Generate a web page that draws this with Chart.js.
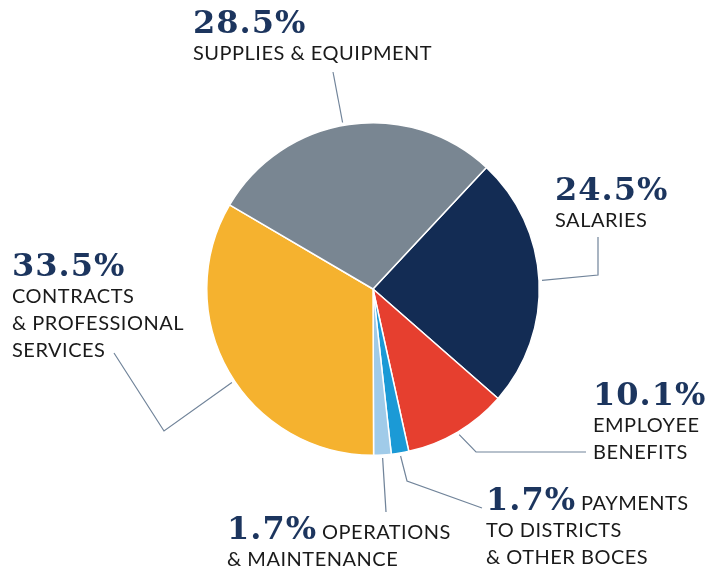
<!DOCTYPE html>
<html lang="en">
<head>
  <meta charset="UTF-8">
  <title>Budget breakdown</title>
  <script src="https://cdn.jsdelivr.net/npm/chart.js"></script>
  <style>
    html, body { margin: 0; padding: 0; background: #fff; }
    #wrap { width: 718px; height: 567px; }
  </style>
</head>
<body>
  <div id="wrap"><canvas id="budgetChart" width="718" height="567"></canvas></div>

  <script>
    // slice order runs clockwise from the supplies/salaries boundary
    const categories = ['SALARIES', 'EMPLOYEE BENEFITS', 'PAYMENTS TO DISTRICTS & OTHER BOCES',
      'OPERATIONS & MAINTENANCE', 'CONTRACTS & PROFESSIONAL SERVICES', 'SUPPLIES & EQUIPMENT'];
    const shares = [24.5, 10.1, 1.7, 1.7, 33.5, 28.5];
    const sliceColors = ['#132c54', '#e63f2f', '#1b9ad6', '#a0cbe9', '#f5b22f', '#798692'];

    // text blocks: percent on first line (optionally followed by words), then extra lines
    // at = where along the slice the leader line starts (0..1)
    const labelLayout = [
      { x: 555, y: 200, first: '', lines: ['SALARIES'], at: 0.5, elbow: [598, 275], end: [598, 237] },
      { x: 593, y: 405, first: '', lines: ['EMPLOYEE', 'BENEFITS'], at: 0.5, elbow: [476, 452], end: [586, 452] },
      { x: 486, y: 510, first: 'PAYMENTS', lines: ['TO DISTRICTS', '& OTHER BOCES'], at: 0.5, elbow: [407, 481], end: [482, 508] },
      { x: 227, y: 539, first: 'OPERATIONS', lines: ['& MAINTENANCE'], at: 0.5, elbow: null, end: [386, 512] },
      { x: 12, y: 276, first: '', lines: ['CONTRACTS', '& PROFESSIONAL', 'SERVICES'], at: 0.47, elbow: [164, 431], end: [114, 353] },
      { x: 193, y: 33, first: '', lines: ['SUPPLIES & EQUIPMENT'], at: 0.48, elbow: null, end: [333, 72] }
    ];

    const pctFont = 'bold 32px "DejaVu Serif"';
    const textFont = '20px Lato';
    const lineGap = 27;

    const calloutPlugin = {
      id: 'callouts',
      afterDraw(chart) {
        const ctx = chart.ctx;
        const arcs = chart.getDatasetMeta(0).data;
        ctx.save();
        arcs.forEach((arc, i) => {
          const lay = labelLayout[i];
          const p = arc.getProps(['x', 'y', 'startAngle', 'endAngle', 'outerRadius'], true);
          const a = p.startAngle + (p.endAngle - p.startAngle) * lay.at;
          const r = p.outerRadius + 3;
          ctx.strokeStyle = '#71849a';
          ctx.lineWidth = 1.2;
          ctx.beginPath();
          ctx.moveTo(p.x + Math.cos(a) * r, p.y + Math.sin(a) * r);
          if (lay.elbow) ctx.lineTo(lay.elbow[0], lay.elbow[1]);
          ctx.lineTo(lay.end[0], lay.end[1]);
          ctx.stroke();

          const pct = shares[i].toFixed(1) + '%';
          ctx.textBaseline = 'alphabetic';
          ctx.textAlign = 'left';
          ctx.font = pctFont;
          ctx.letterSpacing = '1px';
          ctx.fillStyle = '#1c355e';
          ctx.fillText(pct, lay.x, lay.y);
          const w = ctx.measureText(pct).width;
          ctx.font = textFont;
          ctx.letterSpacing = '0.5px';
          ctx.fillStyle = '#1a1a1a';
          let y = lay.y;
          if (lay.first) ctx.fillText(lay.first, lay.x + w + 5, y);
          lay.lines.forEach(t => {
            y += lineGap;
            ctx.fillText(t, lay.x, y);
          });
        });
        ctx.restore();
      }
    };

    new Chart(document.getElementById('budgetChart'), {
      type: 'pie',
      data: {
        labels: categories,
        datasets: [{
          data: shares,
          backgroundColor: sliceColors,
          borderColor: '#ffffff',
          borderWidth: 1.5
        }]
      },
      options: {
        responsive: false,
        animation: false,
        rotation: 43,
        layout: { padding: { left: 206, right: 178, top: 122, bottom: 111 } },
        plugins: {
          legend: { display: false },
          tooltip: { enabled: false }
        }
      },
      plugins: [calloutPlugin]
    });
  </script>
</body>
</html>
